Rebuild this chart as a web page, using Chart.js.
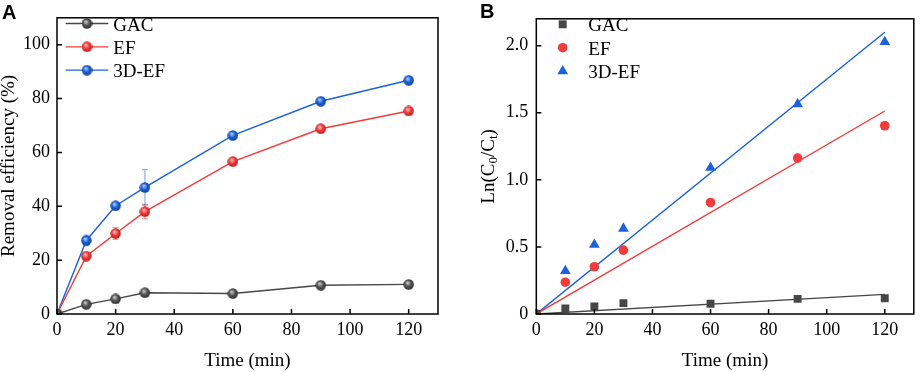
<!DOCTYPE html>
<html>
<head>
<meta charset="utf-8">
<script src="https://cdn.jsdelivr.net/npm/chart.js@4.4.1/dist/chart.umd.min.js"></script>
<style>
    html, body { margin: 0; padding: 0; background: #fff; }
    #wrap { position: relative; width: 920px; height: 372px; overflow: hidden; }
    .panel { position: absolute; top: 0; width: 460px; height: 372px; }
    .tag { position: absolute; font: bold 20px "Liberation Sans", Arial, sans-serif; line-height: 1; color: #000; }
</style>
</head>
<body>
<div id="wrap">
    <div class="panel" style="left:0"><canvas id="chartA"></canvas></div>
    <div class="panel" style="left:460px"><canvas id="chartB"></canvas></div>
    <div class="tag" style="left:2px; top:2px">A</div>
    <div class="tag" style="left:480px; top:1px">B</div>
</div>
<script>
const SERIF = "'Liberation Serif', 'Times New Roman', serif";
Chart.defaults.font.family = SERIF;
Chart.defaults.color = '#000';

// ---- data ----
const timeMin = [0, 10, 20, 30, 60, 90, 120];
const seriesNames = ['GAC', 'EF', '3D-EF'];

// panel A: removal efficiency (%)
const removalGAC = [0, 3.6, 5.6, 7.9, 7.6, 10.7, 11.0];
const removalEF = [0, 21.5, 29.9, 38.0, 56.6, 68.8, 75.4];
const removal3DEF = [0, 27.3, 40.2, 47.0, 66.3, 79.0, 86.8];
const errGAC = [0, 0.3, 0.3, 0.4, 0.3, 0.3, 0.3];
const errEF = [0, 0.8, 2.2, 2.7, 0.6, 0.8, 0.7];
const err3DEF = [0, 2.0, 0.8, 6.6, 0.6, 1.2, 0.6];

// panel B: ln(C0/Ct) and linear fits
const lnGAC = [0, 0.041, 0.057, 0.081, 0.077, 0.113, 0.117];
const lnEF = [0, 0.237, 0.352, 0.476, 0.831, 1.162, 1.403];
const ln3DEF = [0, 0.321, 0.517, 0.637, 1.09, 1.564, 2.028];
const fitTime = [0, 120];
const fitGAC = [0, 0.146];
const fitEF = [0, 1.513];
const fit3DEF = [0, 2.10];

// ticks
const xTicks = [0, 20, 40, 60, 80, 100, 120];
const yTicksA = [0, 20, 40, 60, 80, 100];
const yTicksB = [0, 0.5, 1.0, 1.5, 2.0];

const colGAC = '#474747';
const colEF = '#f23c3c';
const col3DEF = '#1c62dc';

function pts(xs, ys) {
    return xs.map((x, i) => ({ x: x, y: ys[i] }));
}

// little shaded ball used as point style in panel A
function sphere(base, light, dark) {
    const c = document.createElement('canvas');
    c.width = 11;
    c.height = 11;
    const g = c.getContext('2d');
    const grad = g.createRadialGradient(4.2, 3.6, 0.3, 5.5, 5.5, 5.6);
    grad.addColorStop(0, light);
    grad.addColorStop(0.5, base);
    grad.addColorStop(1, dark);
    g.fillStyle = grad;
    g.beginPath();
    g.arc(5.5, 5.5, 5.2, 0, Math.PI * 2);
    g.fill();
    return c;
}

const ballGAC = sphere('#555555', '#d0d0d0', '#2a2a2a');
const ballEF = sphere('#f03a3a', '#ffc4c4', '#b81818');
const ball3DEF = sphere('#1d62d8', '#b4d0ff', '#0c3a98');

// frame + inward ticks
const frameTicks = {
    id: 'frameTicks',
    afterDraw(chart) {
        const { ctx, chartArea: a, scales } = chart;
        ctx.save();
        ctx.strokeStyle = '#000';
        ctx.lineWidth = 1.5;
        ctx.beginPath();
        scales.x.ticks.forEach(t => {
            const px = scales.x.getPixelForValue(t.value);
            ctx.moveTo(px, a.bottom);
            ctx.lineTo(px, a.bottom - 5);
        });
        scales.y.ticks.forEach(t => {
            const py = scales.y.getPixelForValue(t.value);
            ctx.moveTo(a.left, py);
            ctx.lineTo(a.left + 5, py);
        });
        ctx.stroke();
        ctx.strokeRect(a.left, a.top, a.right - a.left, a.bottom - a.top);
        ctx.restore();
    }
};

// error bars for panel A (drawn behind the markers)
const errorBars = {
    id: 'errorBars',
    beforeDatasetsDraw(chart) {
        const { ctx, scales } = chart;
        ctx.save();
        ctx.lineWidth = 1.2;
        chart.data.datasets.forEach(ds => {
            if (!ds.errors) return;
            ctx.strokeStyle = ds.errColor;
            ctx.beginPath();
            ds.data.forEach((p, i) => {
                const e = ds.errors[i];
                if (!e) return;
                const px = scales.x.getPixelForValue(p.x);
                const top = scales.y.getPixelForValue(p.y + e);
                const bot = scales.y.getPixelForValue(p.y - e);
                ctx.moveTo(px, top); ctx.lineTo(px, bot);
                ctx.moveTo(px - 3, top); ctx.lineTo(px + 3, top);
                ctx.moveTo(px - 3, bot); ctx.lineTo(px + 3, bot);
            });
            ctx.stroke();
        });
        ctx.restore();
    }
};

const legendA = {
    id: 'legendA',
    afterDraw(chart) {
        const ctx = chart.ctx;
        ctx.save();
        ctx.font = '19px ' + SERIF;
        ctx.fillStyle = '#000';
        ctx.textBaseline = 'alphabetic';
        chart.data.datasets.forEach((ds, i) => {
            const y = 23.5 + i * 23.3;
            ctx.strokeStyle = ds.borderColor;
            ctx.lineWidth = 1.3;
            ctx.beginPath();
            ctx.moveTo(65.7, y);
            ctx.lineTo(108.3, y);
            ctx.stroke();
            ctx.drawImage(ds.pointStyle, 87 - 5.5, y - 5.5);
            ctx.fillText(ds.label, 113.3, y + 7);
        });
        ctx.restore();
    }
};

const legendB = {
    id: 'legendB',
    afterDraw(chart) {
        const ctx = chart.ctx;
        ctx.save();
        ctx.font = '19px ' + SERIF;
        ctx.textBaseline = 'alphabetic';
        chart.data.datasets.filter(ds => !ds.isFit).forEach((ds, i) => {
            const y = 24.3 + i * 23.4;
            ctx.fillStyle = ds.backgroundColor;
            Chart.helpers.drawPoint(ctx, {
                pointStyle: ds.pointStyle, radius: ds.pointRadius, rotation: 0, borderWidth: 0
            }, 102.7, y);
            ctx.fillStyle = '#000';
            ctx.fillText(ds.label, 128.3, y + 7);
        });
        ctx.restore();
    }
};

// y title with subscripts for panel B
const titleB = {
    id: 'titleB',
    afterDraw(chart) {
        const ctx = chart.ctx;
        const parts = [['Ln(C', 0], ['0', 1], ['/C', 0], ['t', 1], [')', 0]];
        const big = '19px ' + SERIF, small = '13px ' + SERIF;
        let total = 0;
        parts.forEach(p => { ctx.font = p[1] ? small : big; total += ctx.measureText(p[0]).width; });
        const cy = (chart.chartArea.top + chart.chartArea.bottom) / 2;
        ctx.save();
        ctx.translate(27, cy);
        ctx.rotate(-Math.PI / 2);
        ctx.fillStyle = '#000';
        ctx.textBaseline = 'alphabetic';
        let x = -total / 2;
        parts.forEach(p => {
            ctx.font = p[1] ? small : big;
            ctx.fillText(p[0], x, p[1] ? 10 : 6.5);
            x += ctx.measureText(p[0]).width;
        });
        ctx.restore();
    }
};

function tickFont() {
    return { family: SERIF, size: 18 };
}

function xScale() {
    return {
        type: 'linear',
        min: 0,
        max: 130,
        afterBuildTicks: s => { s.ticks = xTicks.map(v => ({ value: v })); },
        afterFit: s => { s.height = 58; },
        grid: { display: false, drawTicks: false },
        border: { display: false },
        ticks: { font: tickFont(), color: '#000', padding: 5, maxRotation: 0 },
        title: {
            display: true, text: 'Time (min)', color: '#000',
            font: { family: SERIF, size: 19 }, padding: { top: 0, bottom: 0 }
        }
    };
}

const chartA = new Chart(document.getElementById('chartA'), {
    type: 'line',
    data: {
        datasets: [
            { label: seriesNames[0], data: pts(timeMin, removalGAC), borderColor: colGAC, pointStyle: ballGAC,
              errors: errGAC, errColor: 'rgba(90,90,90,0.5)' },
            { label: seriesNames[1], data: pts(timeMin, removalEF), borderColor: colEF, pointStyle: ballEF,
              errors: errEF, errColor: 'rgba(240,60,60,0.55)' },
            { label: seriesNames[2], data: pts(timeMin, removal3DEF), borderColor: col3DEF, pointStyle: ball3DEF,
              errors: err3DEF, errColor: 'rgba(30,100,220,0.5)' }
        ]
    },
    options: {
        responsive: true,
        maintainAspectRatio: false,
        animation: false,
        layout: { padding: { top: 7, right: 22, bottom: 0, left: 0 } },
        elements: {
            line: { borderWidth: 1.4, tension: 0, fill: false },
            point: { radius: 5, hoverRadius: 5, borderWidth: 0 }
        },
        plugins: { legend: { display: false }, tooltip: { enabled: false } },
        scales: {
            x: xScale(),
            y: {
                type: 'linear',
                min: 0,
                max: 110,
                afterBuildTicks: s => { s.ticks = yTicksA.map(v => ({ value: v })); },
                afterFit: s => { s.width = 57; },
                grid: { display: false, drawTicks: false },
                border: { display: false },
                ticks: { font: tickFont(), color: '#000', padding: 7 },
                title: {
                    display: true, text: 'Removal efficiency (%)', color: '#000',
                    font: { family: SERIF, size: 19, lineHeight: 1 }, padding: { top: 0, bottom: 0 }
                }
            }
        }
    },
    plugins: [errorBars, frameTicks, legendA]
});

const chartB = new Chart(document.getElementById('chartB'), {
    type: 'scatter',
    data: {
        datasets: [
            { label: seriesNames[0], data: pts(timeMin, lnGAC), backgroundColor: colGAC, pointStyle: 'rect', pointRadius: 5.6, order: 0 },
            { label: seriesNames[1], data: pts(timeMin, lnEF), backgroundColor: colEF, pointStyle: 'circle', pointRadius: 4.8, order: 0 },
            { label: seriesNames[2], data: pts(timeMin, ln3DEF), backgroundColor: col3DEF, pointStyle: 'triangle', pointRadius: 6.2, order: 0 },
            { isFit: true, data: pts(fitTime, fitGAC), borderColor: colGAC, showLine: true, pointRadius: 0, order: 1 },
            { isFit: true, data: pts(fitTime, fitEF), borderColor: colEF, showLine: true, pointRadius: 0, order: 1 },
            { isFit: true, data: pts(fitTime, fit3DEF), borderColor: col3DEF, showLine: true, pointRadius: 0, order: 1 }
        ]
    },
    options: {
        responsive: true,
        maintainAspectRatio: false,
        animation: false,
        layout: { padding: { top: 8, right: 3, bottom: 0, left: 0 } },
        elements: {
            line: { borderWidth: 1.4, tension: 0, fill: false },
            point: { borderWidth: 0, hoverRadius: 5 }
        },
        plugins: { legend: { display: false }, tooltip: { enabled: false } },
        scales: {
            x: xScale(),
            y: {
                type: 'linear',
                min: 0,
                max: 2.2,
                afterBuildTicks: s => { s.ticks = yTicksB.map(v => ({ value: v })); },
                afterFit: s => { s.width = 76.3; },
                grid: { display: false, drawTicks: false },
                border: { display: false },
                ticks: {
                    font: tickFont(), color: '#000', padding: 8,
                    callback: v => (v === 0 ? '0' : v.toFixed(1))
                }
            }
        }
    },
    plugins: [frameTicks, legendB, titleB]
});
</script>
</body>
</html>
